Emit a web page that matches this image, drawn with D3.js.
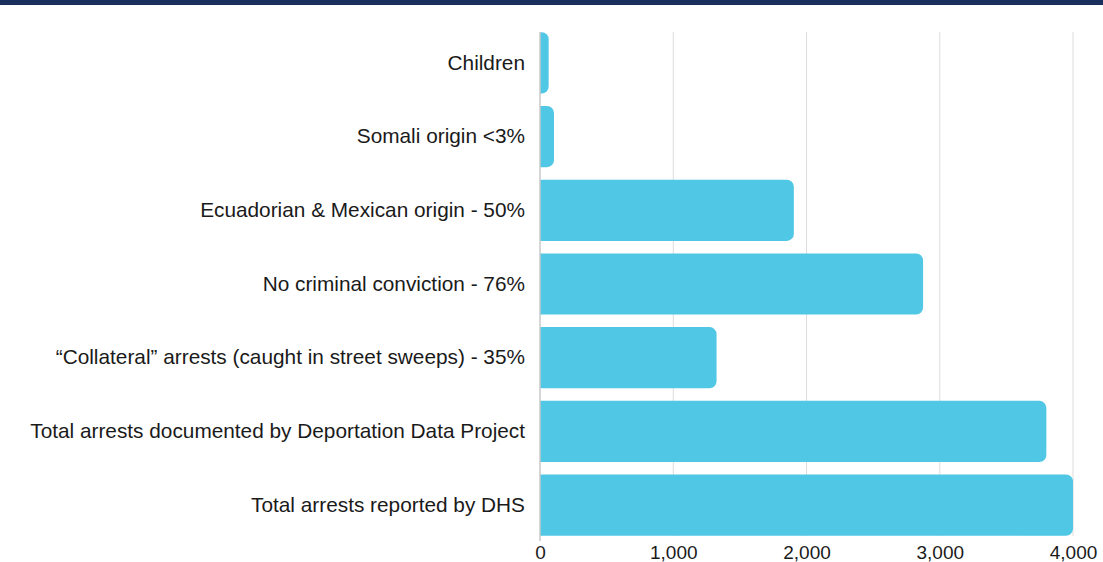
<!DOCTYPE html>
<head>
  <meta charset="utf-8">
  <title>Arrests bar chart</title>
  <script src="https://d3js.org/d3.v7.min.js"></script>
  <style>
    body { margin: 0; background: #fff; font-family: "Liberation Sans", Arial, Helvetica, sans-serif; }
    #topbar { height: 5px; background: #1b2f5c; }
  </style>
</head>
<body>
  <div id="topbar"></div>
  <div id="chart"></div>
  <script>
    // categories, top to bottom
    var categories = [
      'Children',
      'Somali origin <3%',
      'Ecuadorian & Mexican origin - 50%',
      'No criminal conviction - 76%',
      '\u201cCollateral\u201d arrests (caught in street sweeps) - 35%',
      'Total arrests documented by Deportation Data Project',
      'Total arrests reported by DHS'
    ];
    // arrest counts
    var arrests = [65, 105, 1905, 2875, 1325, 3800, 4000];
    var tickValues = [0, 1000, 2000, 3000, 4000];

    var width = 1103, height = 557;
    var margin = { top: 20, right: 30, bottom: 20, left: 540 };

    var x = d3.scaleLinear()
      .domain([0, 4000])
      .range([margin.left, width - margin.right]);

    var y = d3.scaleBand()
      .domain(categories)
      .range([21, 537])
      .paddingInner(0.17)
      .paddingOuter(0.085);

    var svg = d3.select('#chart').append('svg')
      .attr('width', width)
      .attr('height', height)
      .style('display', 'block');

    // vertical grid lines
    svg.append('g')
      .selectAll('line')
      .data(tickValues.slice(1))
      .enter().append('line')
        .attr('x1', function(d) { return x(d); })
        .attr('x2', function(d) { return x(d); })
        .attr('y1', 27)
        .attr('y2', 531)
        .attr('stroke', '#dcdcdc')
        .attr('stroke-width', 1);

    // bars, rounded on the right end only
    var r = 7;
    function barPath(d, i) {
      var x0 = x(0), x1 = x(d), y0 = y(categories[i]), h = y.bandwidth();
      var rr = Math.min(r, (x1 - x0), h / 2);
      return 'M' + x0 + ',' + y0 +
        'H' + (x1 - rr) +
        'A' + rr + ',' + rr + ' 0 0 1 ' + x1 + ',' + (y0 + rr) +
        'V' + (y0 + h - rr) +
        'A' + rr + ',' + rr + ' 0 0 1 ' + (x1 - rr) + ',' + (y0 + h) +
        'H' + x0 + 'Z';
    }
    svg.append('g')
      .selectAll('path')
      .data(arrests)
      .enter().append('path')
        .attr('d', barPath)
        .attr('fill', '#50c7e4');

    // baseline
    svg.append('line')
      .attr('x1', x(0)).attr('x2', x(0))
      .attr('y1', 27).attr('y2', 536)
      .attr('stroke', '#c8c8c8')
      .attr('stroke-width', 1.5);

    // category labels
    var yAxis = d3.axisLeft(y).tickSize(0).tickPadding(15);
    var gy = svg.append('g')
      .attr('transform', 'translate(' + x(0) + ',0)')
      .call(yAxis);
    gy.select('.domain').remove();
    gy.selectAll('text')
      .attr('fill', '#1a1a1a')
      .style('font-size', '20.8px')
      .style('font-family', '"Liberation Sans", Arial, Helvetica, sans-serif');

    // x axis tick labels
    var xAxis = d3.axisBottom(x)
      .tickValues(tickValues)
      .tickFormat(d3.format(','))
      .tickSize(0)
      .tickPadding(4);
    var gx = svg.append('g')
      .attr('transform', 'translate(0,536.5)')
      .call(xAxis);
    gx.select('.domain').remove();
    gx.selectAll('text')
      .attr('fill', '#1a1a1a')
      .style('font-size', '19px')
      .style('font-family', '"Liberation Sans", Arial, Helvetica, sans-serif');
  </script>
</body>
